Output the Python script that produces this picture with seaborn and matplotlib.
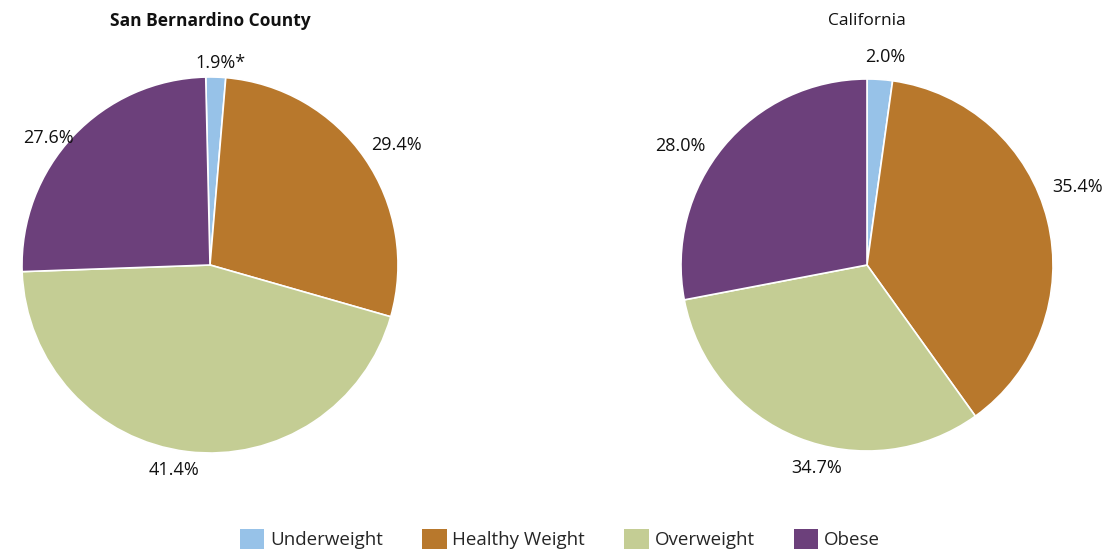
import numpy as np
import matplotlib
matplotlib.use("Agg")
import matplotlib.pyplot as plt
import seaborn as sns
from matplotlib.patches import Patch

# ---------------------------------------------------------
# Data (slice shares as drawn in the chart, label text as printed)
# ---------------------------------------------------------
categories = ["Underweight", "Healthy Weight", "Overweight", "Obese"]
county_shares = [1.7, 28.1, 45.0, 25.2]
county_labels = ["1.9%*", "29.4%", "41.4%", "27.6%"]
state_shares = [2.2, 37.9, 31.9, 28.0]
state_labels = ["2.0%", "35.4%", "34.7%", "28.0%"]
titles = ["San Bernardino County", "California"]

colors = ["#97C2E8", "#B8782C", "#C4CD94", "#6C407B"]

sns.set_theme(style="white")
plt.rcParams["font.family"] = ["Open Sans", "DejaVu Sans"]

fig = plt.figure(figsize=(11.07, 5.5), dpi=100)
W, H = 1107, 550


def draw_pie(cx, cy, r, shares, labels, title, bold, start, dists, shifts):
    ax = fig.add_axes([(cx - r) / W, (H - cy - r) / H, 2 * r / W, 2 * r / H])
    wedges, _ = ax.pie(shares, colors=colors, startangle=start, counterclock=False,
                       wedgeprops={"edgecolor": "white", "linewidth": 1.2})
    # label each wedge just outside its rim
    for w, lab, d, s in zip(wedges, labels, dists, shifts):
        mid = np.deg2rad((w.theta1 + w.theta2) / 2 + s)
        ax.text(d * np.cos(mid), d * np.sin(mid), lab, ha="center", va="center",
                fontsize=13, color="#111111")
    ax.set_xlim(-1, 1)
    ax.set_ylim(-1, 1)
    ax.set_aspect("equal")
    ax.axis("off")
    fig.text(cx / W, 1 - 21 / H, title, ha="center", va="center", fontsize=12.5,
             fontweight="bold" if bold else "normal", color="#111111")
    return ax


draw_pie(210, 265, 188, county_shares, county_labels, titles[0], True, 91.3,
         [1.076, 1.18, 1.107, 1.095], [-1.3, -1.8, -3.1, 5.1])
draw_pie(867, 265, 186, state_shares, state_labels, titles[1], False, 90,
         [1.12, 1.21, 1.126, 1.19], [-1, 6.5, 8, 7.2])

handles = [Patch(facecolor=c, edgecolor="none") for c in colors]
fig.legend(handles, categories, loc="center", bbox_to_anchor=(560 / W, 1 - 539 / H),
           ncol=4, frameon=False, fontsize=13.5, handlelength=1.3, handleheight=1.3,
           handletextpad=0.3, columnspacing=2.1)

fig.savefig("out.png", dpi=100)
